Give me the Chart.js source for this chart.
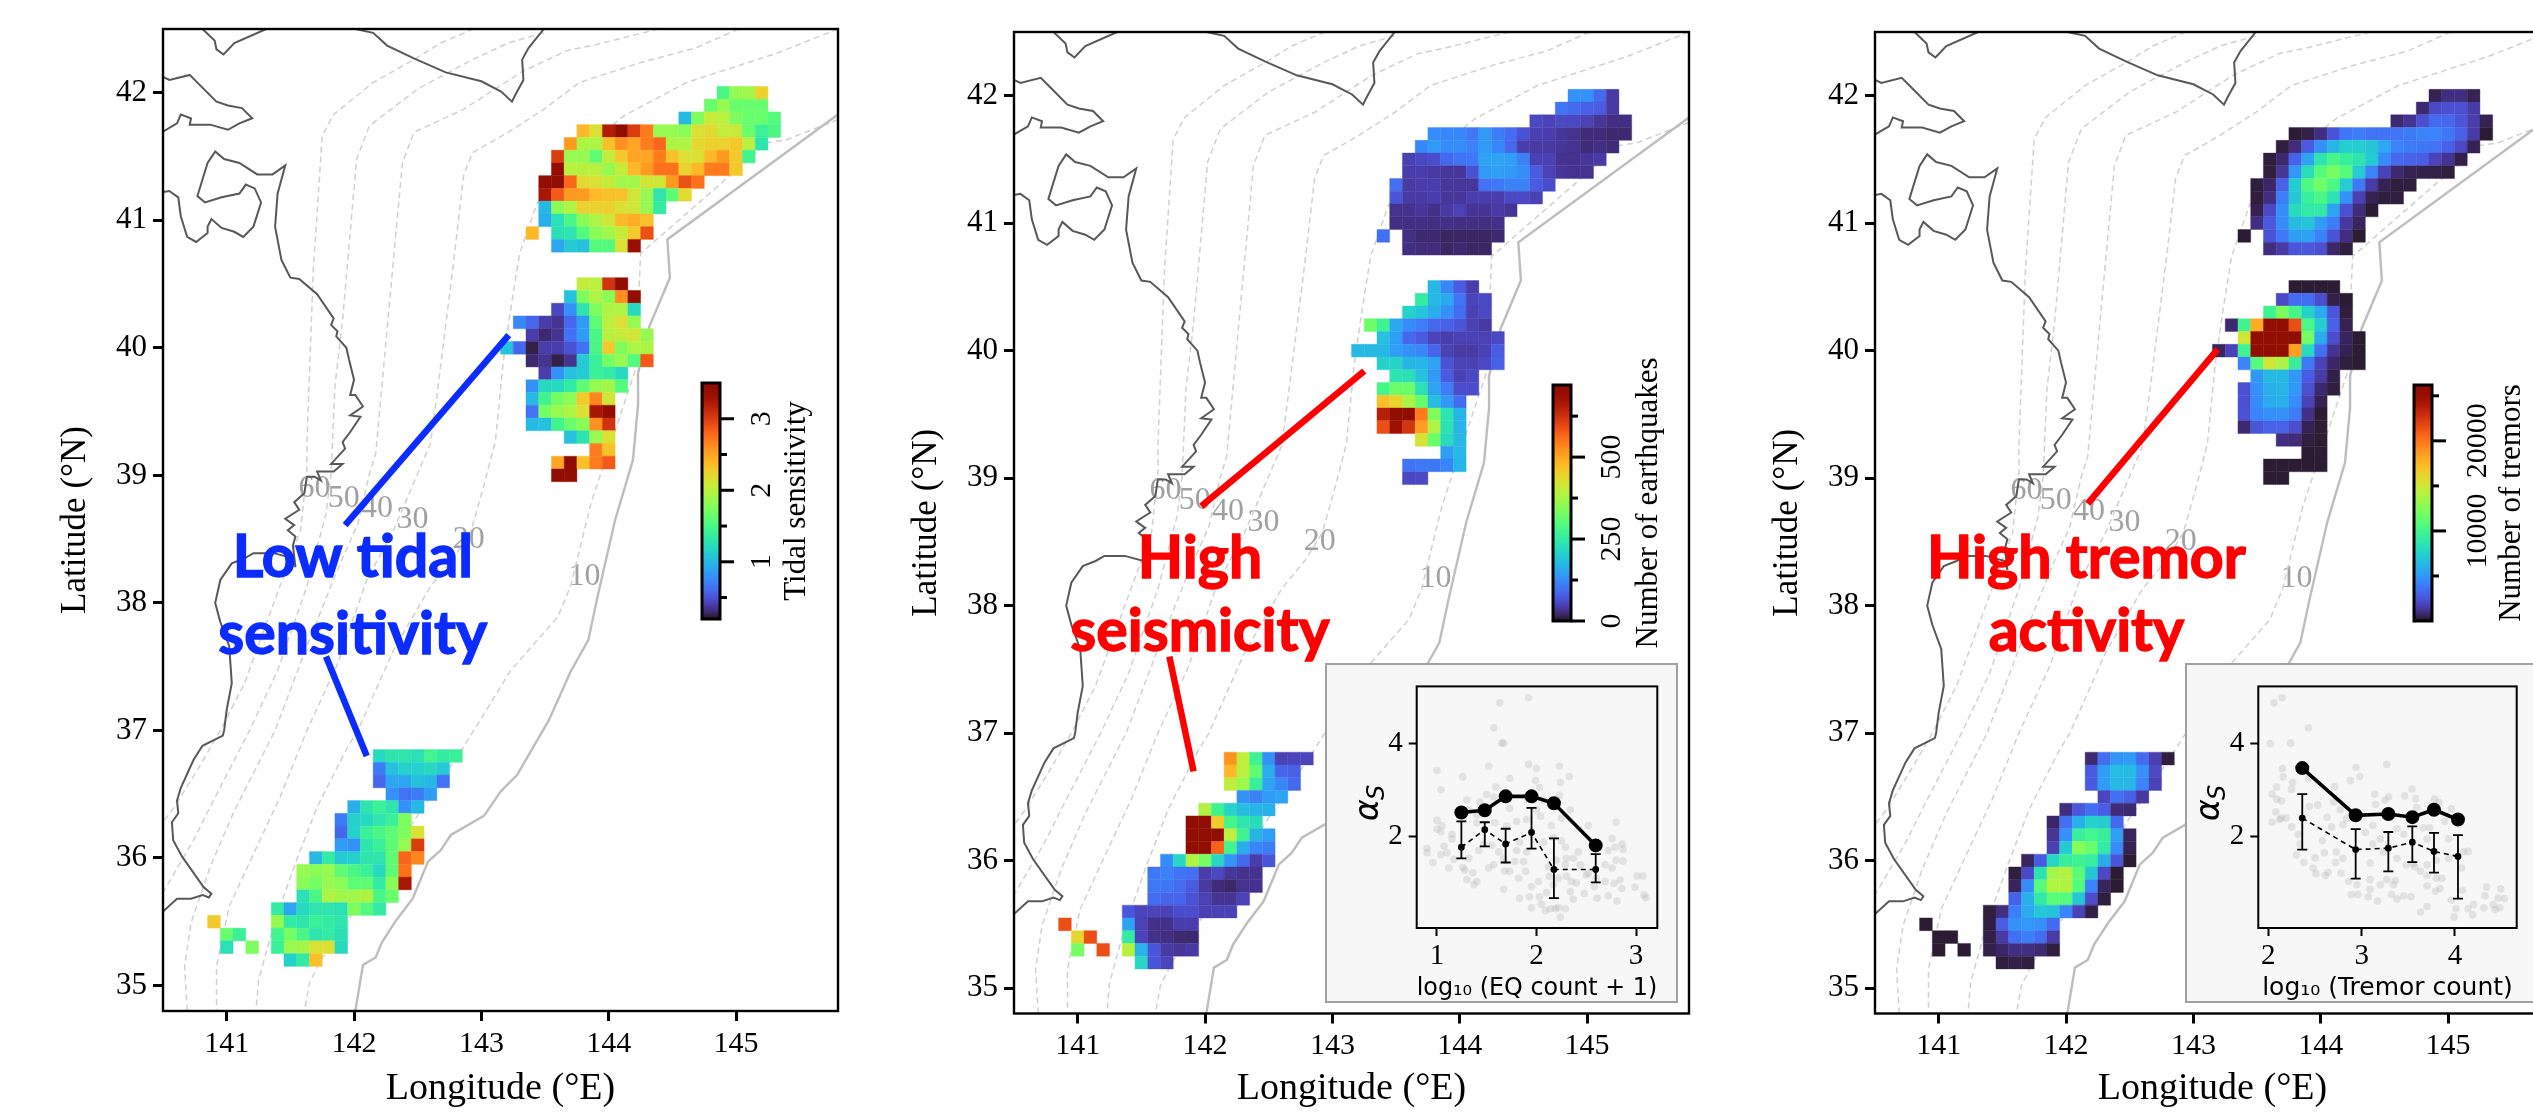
<!DOCTYPE html>
<html lang="en">
<head>
<meta charset="UTF-8" />
<title>Tidal sensitivity, seismicity and tremor activity</title>
<script src="https://cdn.jsdelivr.net/npm/chart.js"></script>
<style>
  html, body { margin: 0; background: #fff; overflow: hidden; width: 2533px; height: 1112px; }
  canvas { position: absolute; }
</style>
</head>
<body>
<script>
// axis ticks
const lonTicks = [141, 142, 143, 144, 145];
const latTicks = [35, 36, 37, 38, 39, 40, 41, 42];

// coast, trench and slab depth contours as [lon, lat]
const coastTop = [[140.81,42.5],[140.905,42.41],[140.92,42.34],[140.975,42.3],[141.06,42.39],[141.31,42.5]];
const coastErimo = [[142.01,42.5],[142.15,42.47],[142.26,42.37],[142.47,42.27],[142.72,42.16],[143,42.09],[143.155,42.01],[143.24,41.93],[143.27,41.99],[143.33,42.1],[143.32,42.26],[143.37,42.35],[143.49,42.5]];
const coastOshima = [[140.49,42.13],[140.55,42.1],[140.71,42.14],[140.78,42.07],[140.92,41.93],[141.01,41.9],[141.12,41.88],[141.2,41.8],[141.1,41.76],[141.01,41.71],[140.87,41.75],[140.71,41.75],[140.72,41.8],[140.64,41.83],[140.61,41.76],[140.49,41.69]];
const coastHonshu = [[140.49,41.22],[140.55,41.23],[140.62,41.18],[140.64,41.03],[140.69,40.87],[140.76,40.83],[140.85,40.9],[140.85,40.95],[140.88,41.01],[140.96,40.94],[141.06,40.91],[141.13,40.87],[141.21,40.95],[141.27,41.14],[141.22,41.25],[141.15,41.28],[141.1,41.21],[140.96,41.18],[140.83,41.14],[140.77,41.19],[140.81,41.32],[140.85,41.45],[140.91,41.54],[140.98,41.48],[141.1,41.45],[141.24,41.36],[141.36,41.36],[141.46,41.43],[141.4,41.21],[141.38,40.95],[141.43,40.69],[141.5,40.55],[141.57,40.54],[141.71,40.42],[141.84,40.23],[141.82,40.18],[141.87,40.13],[141.86,40.09],[141.94,40],[141.96,39.91],[142,39.75],[141.97,39.63],[142.01,39.63],[142.07,39.54],[141.97,39.47],[142.05,39.46],[141.97,39.34],[141.91,39.26],[141.93,39.21],[141.82,39.09],[141.91,39.09],[141.84,39.03],[141.71,39.03],[141.74,38.96],[141.69,38.99],[141.63,38.99],[141.61,38.86],[141.53,38.79],[141.57,38.73],[141.46,38.66],[141.53,38.61],[141.48,38.57],[141.54,38.52],[141.52,38.45],[141.54,38.28],[141.52,38.35],[141.37,38.39],[141.21,38.39],[141.14,38.35],[141.04,38.31],[140.95,38.18],[140.91,38],[140.95,37.85],[141.02,37.66],[141.04,37.37],[141,37.16],[140.98,37],[140.97,36.96],[140.81,36.88],[140.74,36.77],[140.64,36.55],[140.61,36.45],[140.62,36.35],[140.57,36.28],[140.58,36.14],[140.65,36.01],[140.82,35.77],[140.88,35.72],[140.86,35.69],[140.81,35.71],[140.72,35.68],[140.61,35.68],[140.5,35.58]];
const trench = [[145.8,41.83],[144.46,40.85],[144.48,40.55],[144.32,40.17],[144.23,39.8],[144.23,39.55],[144.19,39.12],[144.05,38.65],[143.91,38.04],[143.84,37.71],[143.7,37.46],[143.53,37.08],[143.39,36.84],[143.28,36.65],[143.15,36.52],[143.02,36.33],[142.76,36.18],[142.68,36.06],[142.58,35.97],[142.46,35.68],[142.33,35.51],[142.22,35.34],[142.17,35.22],[142.07,35.16],[142.01,34.8]];
const depth60 = [[142.94,42.5],[142.68,42.39],[142.47,42.26],[142.15,42.08],[141.84,41.83],[141.75,41.66],[141.68,40.61],[141.63,39.25],[141.63,39.04],[141.58,38.57],[141.37,38],[141.14,37.37],[140.95,37],[140.77,36.69],[140.59,36.4],[140.5,36.28]];
const depth50 = [[143.49,42.47],[143.21,42.39],[142.93,42.26],[142.5,42.03],[142.12,41.74],[142.02,41.48],[141.91,40.22],[141.85,39.7],[141.82,39.01],[141.78,38.7],[141.63,38.13],[141.4,37.47],[141.18,37],[140.87,36.4],[140.74,36.14],[140.5,35.73]];
const depth40 = [[144.39,42.5],[143.91,42.38],[143.67,42.33],[143.31,42.16],[142.86,41.87],[142.47,41.69],[142.38,41.45],[142.29,40.48],[142.17,39.17],[142.12,39.01],[142.03,38.62],[141.87,38.26],[141.63,37.66],[141.38,37],[141.06,36.37],[140.87,35.93],[140.72,35.49],[140.67,35.15],[140.69,34.8]];
const depth30 = [[145.02,42.5],[144.68,42.35],[144.26,42.24],[143.77,42.08],[143.49,41.87],[143.21,41.69],[142.93,41.53],[142.86,41.35],[142.79,40.74],[142.65,39.62],[142.6,39.25],[142.31,38.57],[142.1,38.18],[141.87,37.52],[141.63,37],[141.42,36.48],[141.21,36.03],[141.02,35.62],[140.92,35.15],[140.92,34.8]];
const depth20 = [[145.8,42.5],[145.32,42.31],[144.61,42.08],[144.12,41.82],[144.02,41.74],[143.44,41.14],[143.3,40.74],[143.23,40.3],[143.17,39.88],[143.11,39.27],[143.03,38.96],[142.92,38.57],[142.79,38.36],[142.6,38.13],[142.31,37.63],[142.03,37],[141.95,36.87],[141.71,36.4],[141.54,35.96],[141.38,35.51],[141.25,35.04],[141.23,34.8]];
const depth10 = [[145.8,41.79],[145.39,41.63],[145.25,41.61],[144.25,40.74],[144.21,39.83],[143.93,38.99],[143.86,38.78],[143.7,38.13],[143.6,37.89],[143.23,37.47],[142.94,37],[142.84,36.84],[142.47,36.29],[141.74,35.2],[141.65,35.02],[141.61,34.8]];
const depthLabels = [["60",141.69,38.9],["50",141.92,38.82],["40",142.18,38.74],["30",142.46,38.65],["20",142.9,38.5],["10",143.81,38.21]];

// grid cells: [lat, first lon, value per 0.1 degree of lon...]
const tidalRows = [
  [42.0,144.9,1.5,1.85,1.9,2.25],
  [41.9,144.8,1.65,1.85,1.65,1.65,1.65],
  [41.8,144.6,1.0,1.75,2.05,2.0,1.75,1.65,1.65,1.55],
  [41.7,143.8,2.4,2.15,3.2,3.5,3.0,2.7,1.85,1.85,1.8,2.15,2.2,2.05,2.05,1.65,1.4,1.5],
  [41.6,143.7,2.55,1.95,1.95,2.35,2.6,2.5,2.7,2.8,1.95,1.95,2.2,2.25,2.25,2.3,2.0,1.3],
  [41.5,143.6,3.0,1.85,1.85,1.6,2.05,2.3,2.5,2.5,2.7,2.35,2.15,2.15,2.4,2.55,2.3,1.45],
  [41.4,143.6,3.4,2.0,2.0,2.0,1.85,2.05,2.4,2.55,2.75,2.75,2.25,2.4,2.7,2.7,2.3],
  [41.3,143.5,3.5,3.5,2.8,2.2,2.15,2.05,1.9,1.9,2.1,2.1,2.55,2.9,2.75],
  [41.2,143.5,3.25,2.85,2.55,2.55,2.4,2.35,2.35,2.1,1.85,1.3,1.6,2.2],
  [41.1,143.5,1.0,1.8,1.95,2.25,2.25,2.25,2.15,2.1,1.85,1.35],
  [41.0,143.5,0.95,1.25,1.5,1.8,1.95,2.1,2.4,2.45,2.35],
  [40.9,143.4,2.4,null,1.25,1.3,1.55,1.8,1.9,2.05,2.3,2.9],
  [40.8,143.6,0.9,1.1,1.05,1.55,1.55,2.15,3.35],
  [40.5,143.8,2.05,2.0,3.05,3.5],
  [40.4,143.7,1.05,1.75,1.95,1.8,2.6,3.5],
  [40.3,143.6,0.45,0.8,1.3,1.75,1.95,1.95,1.2],
  [40.2,143.3,0.75,0.6,0.4,0.35,0.6,0.85,1.6,2.0,2.15,1.85],
  [40.1,143.4,0.4,0.3,0.35,0.65,0.85,1.5,2.0,2.05,2.1,1.85],
  [40.0,143.2,1.05,0.6,0.25,0.4,0.4,0.5,0.65,1.5,2.3,1.75,1.95,1.95],
  [39.9,143.4,0.3,0.35,0.25,0.35,1.1,1.4,1.7,1.85,1.55,2.85],
  [39.8,143.5,0.4,0.8,1.05,1.1,1.4,1.35,1.2],
  [39.7,143.4,0.8,1.2,1.2,1.35,1.6,1.85,1.9,1.55],
  [39.6,143.4,1.0,1.45,1.7,1.8,2.3,2.65,2.1],
  [39.5,143.4,0.65,1.7,1.85,1.95,2.15,3.25,3.5],
  [39.4,143.4,1.0,1.05,1.45,1.65,1.8,2.6,3.05],
  [39.3,143.7,1.05,1.3,1.85,2.15],
  [39.2,143.9,2.7,2.35],
  [39.1,143.6,2.5,3.45,2.35,2.7,2.85],
  [39.0,143.6,3.5,3.5],
  [36.8,142.2,1.2,1.3,1.3,1.25,1.45,1.35,1.4],
  [36.7,142.2,0.7,1.05,1.15,1.15,1.2,1.1],
  [36.6,142.2,0.6,0.9,0.9,1.05,1.0,0.65],
  [36.5,142.3,0.8,0.65,0.7,0.85],
  [36.4,142.0,0.95,1.3,1.4,1.3,0.8,1.0],
  [36.3,141.9,0.7,1.15,1.2,1.3,1.4,1.75],
  [36.2,141.9,0.6,1.15,1.4,1.5,1.6,1.75,2.15],
  [36.1,141.9,0.85,0.8,1.3,1.4,1.6,1.85,3.0],
  [36.0,141.7,1.0,1.35,1.1,1.15,1.3,1.3,1.6,2.8,2.65],
  [35.9,141.6,1.85,1.8,1.85,1.6,1.5,1.4,1.2,1.6,2.75],
  [35.8,141.6,1.8,1.7,1.85,1.8,1.6,1.6,1.35,1.8,3.25],
  [35.7,141.6,1.25,1.5,1.95,1.9,1.9,1.95,1.5,1.65],
  [35.6,141.4,1.35,0.9,1.2,1.3,1.3,1.25,1.75,1.55,1.35],
  [35.5,140.9,2.3,null,null,null,null,1.85,1.35,1.3,1.4,1.35,1.3],
  [35.4,141.0,1.65,1.4,null,null,1.45,1.7,1.5,1.3,1.35,1.25],
  [35.3,141.0,1.25,null,1.75,null,1.4,1.85,1.9,2.15,2.15,1.2],
  [35.2,141.5,1.15,1.35,2.35]
];
const quakeRows = [
  [42.0,144.9,130,130,90,40],
  [41.9,144.8,100,90,80,75,40],
  [41.8,144.6,55,50,55,55,48,36,28,28],
  [41.7,143.8,125,120,120,105,140,110,92,65,48,44,36,32,24,24,22,22],
  [41.6,143.7,120,140,125,125,115,140,120,88,44,40,40,36,32,24,28,24],
  [41.5,143.6,48,55,60,88,100,105,150,150,145,115,48,48,32,32,36,40],
  [41.4,143.6,44,44,40,36,36,65,140,145,140,125,75,48,36,32,32],
  [41.3,143.5,95,40,44,44,36,36,36,100,105,115,115,75,60],
  [41.2,143.5,70,40,40,44,36,36,44,44,44,55,55,48],
  [41.1,143.5,32,32,36,30,40,48,34,34,40,34],
  [41.0,143.5,28,28,28,28,30,28,28,28,30],
  [40.9,143.4,95,null,28,22,22,18,18,18,18,22],
  [40.8,143.6,28,25,25,18,22,18,18],
  [40.5,143.8,175,120,75,44],
  [40.4,143.7,250,175,155,100,50,55],
  [40.3,143.6,210,190,160,130,92,48,55],
  [40.2,143.3,320,270,155,125,110,88,80,70,48,40],
  [40.1,143.4,185,145,88,75,50,44,48,48,48,55],
  [40.0,143.2,175,175,175,145,130,120,85,48,40,40,48,75],
  [39.9,143.4,205,210,170,170,150,65,48,48,55,80],
  [39.8,143.5,235,230,185,140,75,48,55],
  [39.7,143.4,280,320,320,230,150,110,60,60],
  [39.6,143.4,470,445,380,315,180,140,92],
  [39.5,143.4,650,720,720,545,340,235,170],
  [39.4,143.4,590,680,620,510,385,235,170],
  [39.3,143.7,420,320,220,175],
  [39.2,143.9,145,175],
  [39.1,143.6,100,105,105,120,170],
  [39.0,143.6,55,55],
  [36.8,142.2,520,400,270,130,48,50,50],
  [36.7,142.2,480,395,310,160,85,80],
  [36.6,142.2,400,365,260,150,120,88],
  [36.5,142.3,130,115,140,150],
  [36.4,142.0,385,270,210,180,170,165],
  [36.3,141.9,720,720,455,280,240,225],
  [36.2,141.9,720,720,720,395,270,170,145],
  [36.1,141.9,720,720,570,275,160,120,110],
  [36.0,141.7,125,215,385,330,215,135,88,44,70],
  [35.9,141.6,105,115,100,95,44,55,36,32,32],
  [35.8,141.6,105,105,92,75,40,24,20,32,32],
  [35.7,141.6,92,85,85,65,48,34,34,48],
  [35.6,141.4,70,50,50,48,60,60,48,48,48],
  [35.5,140.9,590,null,null,null,null,150,48,30,30,44,44],
  [35.4,141.0,440,590,null,null,250,50,30,28,22,22],
  [35.3,141.0,330,null,590,null,390,170,70,40,36,40],
  [35.2,141.5,215,70,50]
];
const tremorRows = [
  [42.0,144.9,500,1000,1000,500],
  [41.9,144.8,800,2000,2300,2300,1500],
  [41.8,144.6,800,1200,2300,3300,3200,2500,1600,500],
  [41.7,143.8,200,400,1000,2400,3700,4000,3600,3600,3600,3900,4200,4200,3800,2900,1500,200],
  [41.6,143.7,300,900,2700,4700,6200,7300,7300,7000,5600,4200,3900,3800,3600,3000,2000,500],
  [41.5,143.6,300,800,3000,5500,8700,10200,9400,8700,7200,4600,3200,3000,2800,1800,1200,400],
  [41.4,143.6,300,1300,5000,8200,10800,12000,10800,7300,4200,1800,800,500,400,400,300],
  [41.3,143.5,300,700,3000,7300,10500,11800,10400,7300,3900,1500,500,300,300],
  [41.2,143.5,300,1000,4000,7000,9500,10300,8500,4700,1700,500,300,300],
  [41.1,143.5,500,2000,4600,8000,9000,9000,5500,2300,900,200],
  [41.0,143.5,1000,2600,4600,6500,6900,5300,3900,1400,600],
  [40.9,143.4,200,null,2400,3800,5300,5400,4200,2400,1000,200],
  [40.8,143.6,1000,1500,2500,2600,2300,700,300],
  [40.5,143.8,200,200,200,200],
  [40.4,143.7,2000,3400,3400,2200,400,200],
  [40.3,143.6,9800,12200,10200,7500,5800,2500,300],
  [40.2,143.3,800,9800,18000,26200,26200,21500,10300,7300,2900,500],
  [40.1,143.4,15000,26200,26200,26200,26200,12000,5800,2200,600,200],
  [40.0,143.2,600,1800,9800,26200,26200,26200,18500,8000,3500,1200,500,200],
  [39.9,143.4,4200,10800,15000,13800,9400,3800,1800,700,300,200],
  [39.8,143.5,5000,6400,6400,5000,2800,1500,400],
  [39.7,143.4,2300,4800,5900,6200,5000,2300,800,300],
  [39.6,143.4,2300,4600,5800,6000,4600,1800,500],
  [39.5,143.4,2400,4300,4700,4700,3900,1100,200],
  [39.4,143.4,800,2500,3000,3000,2200,500,200],
  [39.3,143.7,1000,900,300,200],
  [39.2,143.9,200,200],
  [39.1,143.6,200,200,200,200,200],
  [39.0,143.6,200,200],
  [36.8,142.2,800,3400,4900,5200,3300,1700,300],
  [36.7,142.2,2700,5200,6500,6500,4700,2000],
  [36.6,142.2,2700,5200,6400,6300,4200,1800],
  [36.5,142.3,1900,3500,2900,1400],
  [36.4,142.0,1000,2500,3400,2800,900,800],
  [36.3,141.9,700,3500,6000,7500,7300,3200],
  [36.2,141.9,1300,4700,9500,10000,9500,5300,600],
  [36.1,141.9,1700,7200,12600,11500,9000,4500,500],
  [36.0,141.7,600,2700,7800,9400,9800,9300,5900,2500,200],
  [35.9,141.6,300,2000,8500,13500,14000,11000,7000,2000,200],
  [35.8,141.6,600,4500,10800,14000,14000,10800,4300,600,200],
  [35.7,141.6,3000,6000,9000,11000,10800,7000,2200,300],
  [35.6,141.4,300,1000,4000,5800,7000,6800,4300,1800,400],
  [35.5,140.9,200,null,null,null,null,300,2800,4700,5000,4700,3300],
  [35.4,141.0,200,200,null,null,400,1500,3500,4100,3400,1500],
  [35.3,141.0,200,null,200,null,400,700,1000,1000,800,300],
  [35.2,141.5,300,400,300]
];

// colour bars
const tidalMajor = [1, 2, 3];
const tidalMinor = [0.5, 1.5, 2.5];
const quakeMajor = [0, 250, 500];
const quakeMinor = [125, 375, 625];
const tremorMajor = [10000, 20000];
const tremorMinor = [5000, 15000, 25000];

// inset: earthquakes
const quakeBinX = [1.245, 1.48, 1.69, 1.95, 2.175, 2.595];
const quakeUpper = [2.51, 2.56, 2.86, 2.86, 2.71, 1.80];
const quakeMean = [1.76, 2.14, 1.83, 2.08, 1.28, 1.28];
const quakeErrHi = [2.32, 2.30, 2.16, 2.61, 1.95, 1.61];
const quakeErrLo = [1.52, 1.78, 1.43, 1.73, 0.66, 1.00];
const quakeScatter = [[1.92,4.99],[1.63,4.88],[1.57,4.34],[1.65,4.01],[1.67,4.01],[1.52,3.51],[1.92,3.55],[2,3.46],[2.23,3.51],[1,3.42],[1.26,3.28],[1.73,3.25],[1.99,3.2],[2.03,3.05],[2.24,3.16],[2.33,3.29],[1.04,3],[1.5,2.9],[1.59,3.06],[1.3,2.78],[1.43,2.74],[2.23,2.88],[1,2.34],[1.05,2.23],[1,2.15],[1.04,2.09],[1.15,2.04],[1.15,1.94],[0.9,1.74],[0.9,1.64],[0.96,1.43],[1.07,1.78],[1.04,1.6],[1.1,1.64],[1.12,1.31],[1.17,1.5],[1.26,1.32],[1.28,1.27],[1.3,1.06],[1.36,1.21],[1.37,0.95],[1.4,1.02],[1.32,1.52],[1.42,1.69],[1.47,1.83],[1.52,1.31],[1.57,1.38],[1.62,1.66],[1.55,1.8],[1.67,1.52],[1.68,1.24],[1.73,1.24],[1.82,1.09],[1.89,1.24],[1.87,1.45],[1.78,1.45],[1.8,1.69],[1.9,1.66],[1.83,1.87],[1.7,2.22],[1.58,2.29],[1.4,2.29],[1.32,2.57],[1.4,2.46],[1.57,2.84],[1.73,2.6],[1.8,2.32],[1.9,2.36],[2,2.57],[2.04,2.43],[1.97,2.78],[2.07,2.78],[2.15,2.23],[2.25,2.39],[2.34,2.57],[2.25,1.9],[2.17,1.97],[2.29,1.76],[2.07,1.87],[1.67,0.85],[1.83,0.66],[1.95,0.91],[1.93,0.69],[2.02,1.02],[2.03,0.69],[1.95,0.45],[2.09,0.39],[2.05,0.53],[2.1,0.78],[2.13,1.13],[2.17,0.95],[2.12,1.34],[2.2,1.48],[2.3,1.52],[2.37,1.52],[2.42,1.66],[2.52,2.23],[2.8,2.3],[2.76,1.95],[2.72,1.69],[2.79,1.76],[2.86,1.83],[2.87,1.71],[2.8,1.48],[2.87,1.46],[2.76,1.31],[2.69,1.38],[2.69,1.02],[2.6,1.09],[2.5,1.16],[2.44,1.38],[2.3,1.13],[2.35,1.02],[2.4,0.99],[2.34,0.8],[2.48,0.76],[2.61,0.66],[2.72,0.71],[2.81,0.6],[2.78,0.98],[2.84,1.05],[2.86,0.87],[2.99,0.9],[3.01,1.14],[3.07,1.14],[3.08,0.73],[3.1,0.67],[2.24,0.25],[2.22,0.46],[2.29,0.43],[2.19,0.43],[2.14,0.43],[2.37,0.64],[2.58,0.91],[2.52,1.2],[2.29,1.38],[2.22,1.09]];

// inset: tremors
const tremorBinX = [2.364, 2.936, 3.286, 3.543, 3.775, 4.032];
const tremorUpper = [3.47, 2.45, 2.48, 2.41, 2.57, 2.36];
const tremorMean = [2.39, 1.71, 1.74, 1.87, 1.67, 1.56];
const tremorErrHi = [2.91, 2.15, 2.09, 2.21, 2.07, 2.02];
const tremorErrLo = [1.71, 1.08, 1.24, 1.44, 1.21, 0.65];
const tremorScatter = [[2.15,4.99],[2.06,4.88],[2.43,4.34],[2.02,4],[2.24,4.01],[2.15,3.46],[2.16,3.28],[2.26,3.16],[2.09,3.06],[2.25,3.01],[2.04,2.91],[2.09,2.8],[2.14,2.76],[2.08,2.52],[2.14,2.39],[2.04,2.3],[2.12,2.36],[2.19,2.39],[2.25,2.2],[2.32,2.04],[2.34,1.83],[2.3,1.59],[2.38,1.43],[2.48,1.31],[2.51,1.19],[2.61,1.15],[2.64,1.22],[2.5,1.53],[2.6,1.64],[2.58,1.9],[2.73,1.66],[2.72,1.43],[2.78,1.2],[2.8,1.52],[2.53,2.67],[2.44,2.64],[2.43,3.24],[2.71,3.07],[2.7,2.74],[2.63,2.41],[2.77,2.57],[2.68,2.2],[2.8,2.25],[2.84,2.38],[2.88,3.2],[2.94,3.49],[2.98,3.29],[3.27,3.55],[3.14,2.91],[3.15,2.69],[3.25,2.78],[3.29,2.85],[3.46,2.87],[3.54,3.02],[3.58,2.81],[3.59,2.62],[3.78,2.8],[3.83,2.73],[3.96,2.59],[3.89,2.32],[3.12,2.23],[3.04,2.08],[3.2,1.94],[3.12,1.83],[3.38,2.16],[3.45,2.04],[3.66,2.18],[3.73,2.18],[3.7,1.94],[3.93,1.94],[3.09,1.42],[3.23,1.66],[3.38,1.52],[3.48,1.38],[3.57,1.34],[3.7,1.38],[3.8,1.48],[3.93,1.52],[4.09,1.66],[4.14,1.67],[4.07,1.31],[3.8,1.09],[3.86,1.09],[3.7,1.15],[3.63,1.24],[3.55,1.41],[3.36,1.04],[3.27,1.06],[3.2,0.95],[3.09,1.06],[2.86,1.02],[2.95,0.95],[2.89,0.74],[2.96,0.74],[3.07,0.69],[3.17,0.6],[3.09,0.85],[3.34,0.95],[3.32,0.74],[3.38,0.64],[3.45,0.71],[3.53,0.69],[3.7,0.92],[3.79,0.81],[3.84,0.87],[4.08,0.83],[3.96,0.62],[4.01,0.43],[3.99,0.25],[3.63,0.36],[3.7,0.48],[4.2,0.52],[4.14,0.43],[4.19,0.3],[4.32,0.71],[4.34,0.9],[4.31,0.45],[4.49,0.86],[4.46,0.66],[4.53,0.65],[4.41,0.52],[4.43,0.41],[4.48,0.45]];

const SERIF = '"Liberation Serif"';
const SANS = '"DejaVu Sans"';

// turbo colour map (polynomial fit)
function turbo(t) {
  const x = Math.min(1, Math.max(0, t));
  const r = 0.13572138 + x * (4.6153926 + x * (-42.66032258 + x * (132.13108234 + x * (-152.94239396 + x * 59.28637943))));
  const g = 0.09140261 + x * (2.19418839 + x * (4.84296658 + x * (-14.18503333 + x * (4.27729857 + x * 2.82956604))));
  const b = 0.1066733 + x * (12.64194608 + x * (-60.58204836 + x * (110.36276771 + x * (-89.90310912 + x * 27.34824973))));
  const c = (v) => Math.round(255 * Math.min(1, Math.max(0, v)));
  return `rgb(${c(r)},${c(g)},${c(b)})`;
}

function addCanvas(left, top, width, height, z) {
  const canvas = document.createElement("canvas");
  canvas.width = width;
  canvas.height = height;
  canvas.style.left = left + "px";
  canvas.style.top = top + "px";
  canvas.style.width = width + "px";
  canvas.style.height = height + "px";
  canvas.style.zIndex = z;
  document.body.appendChild(canvas);
  return canvas;
}

function cellsFromRows(rows) {
  const cells = [];
  rows.forEach((row) => {
    row.slice(2).forEach((v, i) => {
      if (v !== null) cells.push({ x: row[1] + i * 0.1, y: row[0], v: v });
    });
  });
  return cells;
}

const toXY = (pts) => pts.map((p) => ({ x: p[0], y: p[1] }));
const lineSet = (pts, color, width, dash, order) => ({
  data: toXY(pts), showLine: true, pointRadius: 0, borderColor: color, borderWidth: width,
  borderDash: dash || [], tension: 0, order: order
});

const framePlugin = {
  id: "frame",
  afterDatasetsDraw(chart, args, opts) {
    const a = chart.chartArea, ctx = chart.ctx;
    ctx.save();
    ctx.strokeStyle = "#000";
    ctx.lineWidth = opts.width || 2.5;
    ctx.strokeRect(a.left, a.top, a.right - a.left, a.bottom - a.top);
    ctx.restore();
  }
};

// one of the three map panels
function drawMap(p) {
  const plotW = 675, yAxisW = 108, canvasW = yAxisW + plotW + 4;
  const canvas = addCanvas(p.left - yAxisW, 0, canvasW, 1112, 1);
  const cellRadius = (ctx) => {
    const s = ctx.chart.scales.x;
    return Math.abs(s.getPixelForValue(141.1) - s.getPixelForValue(141)) / Math.SQRT2;
  };
  const cellColor = (ctx) => turbo((ctx.raw.v - p.min) / (p.max - p.min));
  const datasets = [
    { data: cellsFromRows(p.rows), showLine: false, pointStyle: "rect", pointRadius: cellRadius,
      pointBackgroundColor: cellColor, pointBorderColor: cellColor, pointBorderWidth: 0.4, order: 2 }
  ];
  p.arrows.forEach((a) => datasets.push(lineSet(a, p.color, 6.5, null, 1)));
  [depth60, depth50, depth40, depth30, depth20, depth10].forEach((d) =>
    datasets.push(lineSet(d, "#d0d0d0", 1.5, [6, 4], 5)));
  [coastTop, coastErimo, coastOshima, coastHonshu].forEach((c) =>
    datasets.push(lineSet(c, "#585858", 2, null, 4)));
  datasets.push(lineSet(trench, "#bdbdbd", 2.4, null, 3));

  const mapText = {
    id: "mapText",
    beforeDatasetsDraw(chart) {
      const { ctx, scales } = chart;
      ctx.save();
      ctx.font = `32px ${SERIF}`;
      ctx.fillStyle = "#a0a0a0";
      ctx.textAlign = "center";
      ctx.textBaseline = "middle";
      depthLabels.forEach((d) => ctx.fillText(d[0], scales.x.getPixelForValue(d[1]), scales.y.getPixelForValue(d[2])));
      ctx.restore();
    },
    afterDatasetsDraw(chart) {
      const { ctx, scales } = chart;
      ctx.save();
      ctx.font = `bold 59px Lato`;
      ctx.fillStyle = p.color;
      ctx.strokeStyle = p.color;
      ctx.lineWidth = 1.4;
      ctx.textAlign = "center";
      ctx.textBaseline = "alphabetic";
      p.words.forEach((w) => {
        const x = scales.x.getPixelForValue(w[1]), y = scales.y.getPixelForValue(w[2]);
        ctx.fillText(w[0], x, y);
        ctx.strokeText(w[0], x, y);
      });
      ctx.restore();
    }
  };

  new Chart(canvas, {
    type: "scatter",
    data: { datasets: datasets },
    plugins: [mapText, framePlugin],
    options: {
      responsive: false, animation: false, events: [],
      layout: { padding: { top: p.top, right: 4, left: 0, bottom: 0 } },
      plugins: { legend: { display: false }, tooltip: { enabled: false }, frame: { width: 2.4 } },
      scales: {
        x: {
          type: "linear", min: 140.5, max: 145.8,
          afterBuildTicks: (s) => { s.ticks = lonTicks.map((v) => ({ value: v })); },
          afterFit: (s) => { s.height = 1112 - p.bottom; },
          ticks: { autoSkip: false, maxRotation: 0, padding: 5, color: "#000", font: { family: SERIF, size: 30 }, callback: (v) => String(v) },
          grid: { drawOnChartArea: false, tickLength: 10, tickWidth: 3, tickColor: "#000" },
          border: { display: false },
          title: { display: true, text: "Longitude (°E)", color: "#000", font: { family: SERIF, size: 38 }, padding: { top: 0, bottom: 0 } }
        },
        y: {
          type: "linear", min: 34.8, max: 42.5,
          afterBuildTicks: (s) => { s.ticks = latTicks.map((v) => ({ value: v })); },
          afterFit: (s) => { s.width = yAxisW; },
          ticks: { autoSkip: false, padding: 6, color: "#000", font: { family: SERIF, size: 31 }, callback: (v) => String(v) },
          grid: { drawOnChartArea: false, tickLength: 10, tickWidth: 3, tickColor: "#000" },
          border: { display: false },
          title: { display: true, text: "Latitude (°N)", color: "#000", font: { family: SERIF, size: 35 }, padding: { top: 0, bottom: 0 } }
        }
      }
    }
  });
}

// vertical colour bar with rotated labels
function drawColorbar(c) {
  const top = 330, height = 340, width = 160;
  const canvas = addCanvas(c.left - 4, top, width, height, 2);
  const barW = 18;
  const bar = {
    id: "bar",
    beforeDatasetsDraw(chart) {
      const { ctx, chartArea: a, scales } = chart;
      const grad = ctx.createLinearGradient(0, a.bottom, 0, a.top);
      for (let i = 0; i <= 32; i++) grad.addColorStop(i / 32, turbo(i / 32));
      ctx.save();
      ctx.fillStyle = grad;
      ctx.fillRect(a.left, a.top, a.right - a.left, a.bottom - a.top);
      ctx.strokeStyle = "#000";
      ctx.lineWidth = 3;
      c.minor.forEach((v) => {
        const y = scales.y.getPixelForValue(v);
        ctx.beginPath(); ctx.moveTo(a.right, y); ctx.lineTo(a.right + 7, y); ctx.stroke();
      });
      c.major.forEach((v) => {
        const y = scales.y.getPixelForValue(v);
        ctx.beginPath(); ctx.moveTo(a.right, y); ctx.lineTo(a.right + 14, y); ctx.stroke();
        ctx.save();
        ctx.translate(c.labelOffset, y);
        ctx.rotate(-Math.PI / 2);
        ctx.font = `30px ${SERIF}`;
        ctx.fillStyle = "#000";
        ctx.textAlign = "center";
        ctx.textBaseline = "middle";
        ctx.fillText(String(v), 0, 0);
        ctx.restore();
      });
      ctx.translate(c.titleOffset, (a.top + a.bottom) / 2);
      ctx.rotate(-Math.PI / 2);
      ctx.font = `31px ${SERIF}`;
      ctx.fillStyle = "#000";
      ctx.textAlign = "center";
      ctx.textBaseline = "middle";
      ctx.fillText(c.title, 0, 0);
      ctx.restore();
    }
  };
  new Chart(canvas, {
    type: "scatter",
    data: { datasets: [{ data: [], showLine: false }] },
    plugins: [bar, framePlugin],
    options: {
      responsive: false, animation: false, events: [],
      layout: { padding: { top: c.top - top, bottom: top + height - c.bottom, left: 4, right: width - 4 - barW } },
      plugins: { legend: { display: false }, tooltip: { enabled: false }, frame: { width: 3 } },
      scales: {
        x: { display: false, min: 0, max: 1 },
        y: { display: false, min: c.min, max: c.max }
      }
    }
  });
}

// grey inset with scatter, upper curve and mean with error bars
function drawInset(n) {
  const canvas = addCanvas(n.boxLeft, 663, 353, 340, 3);
  const datasets = [
    { data: n.binX.map((x, i) => ({ x: x, y: n.upper[i] })), showLine: true, borderColor: "#000", borderWidth: 3.6,
      pointRadius: 5.2, pointBackgroundColor: "#000", pointBorderColor: "#000", order: 1 },
    { data: n.binX.map((x, i) => ({ x: x, y: n.mean[i] })), showLine: true, borderColor: "#000", borderWidth: 1.6, borderDash: [5, 4],
      pointRadius: 2.6, pointBackgroundColor: "#000", pointBorderColor: "#000", order: 2 },
    { data: toXY(n.scatter), showLine: false, pointRadius: 3.8, pointBorderWidth: 0, pointBackgroundColor: "rgba(170,170,170,0.27)", order: 9 }
  ];
  n.binX.forEach((x, i) => datasets.push({
    data: [{ x: x, y: n.errLo[i] }, { x: x, y: n.errHi[i] }], showLine: true, borderColor: "#000", borderWidth: 1.8,
    pointStyle: "line", pointRadius: 5, pointBorderColor: "#000", pointBorderWidth: 1.8, order: 3
  }));

  const box = {
    id: "box",
    beforeDraw(chart) {
      const ctx = chart.ctx;
      ctx.save();
      ctx.fillStyle = "#f7f7f7";
      ctx.strokeStyle = "#a0a0a0";
      ctx.lineWidth = 2;
      ctx.fillRect(0, 0, chart.width, chart.height);
      ctx.strokeRect(1, 1, chart.width - 2, chart.height - 2);
      ctx.restore();
    },
    afterDatasetsDraw(chart) {
      const { ctx, chartArea: a } = chart;
      ctx.save();
      ctx.translate(a.left - 50, 142);
      ctx.rotate(-Math.PI / 2);
      ctx.fillStyle = "#000";
      ctx.textBaseline = "alphabetic";
      ctx.font = `italic 33px ${SANS}`;
      ctx.fillText("α", -16, 11);
      ctx.font = `italic 24px ${SANS}`;
      ctx.fillText("S", 5, 17);
      ctx.restore();
    }
  };

  new Chart(canvas, {
    type: "scatter",
    data: { datasets: datasets },
    plugins: [box, framePlugin],
    options: {
      responsive: false, animation: false, events: [],
      layout: { padding: { top: 17, left: 0, bottom: 0, right: 353 - n.axisLeft - n.axisW } },
      plugins: { legend: { display: false }, tooltip: { enabled: false }, frame: { width: 2 } },
      scales: {
        x: {
          type: "linear", min: n.xMin, max: n.xMax,
          afterBuildTicks: (s) => { s.ticks = n.xTicks.map((v) => ({ value: v })); },
          afterFit: (s) => { s.height = 75; },
          ticks: { autoSkip: false, maxRotation: 0, padding: 3, color: "#000", font: { family: SERIF, size: 29 }, callback: (v) => String(v) },
          grid: { drawOnChartArea: false, tickLength: 8, tickWidth: 2, tickColor: "#000" },
          border: { display: false },
          title: { display: true, text: n.xTitle, color: "#000", font: { family: SANS, size: 25 }, padding: { top: 0, bottom: 0 } }
        },
        y: {
          type: "linear", min: 0.015, max: 5.236,
          afterBuildTicks: (s) => { s.ticks = [2, 4].map((v) => ({ value: v })); },
          afterFit: (s) => { s.width = n.axisLeft; },
          ticks: { autoSkip: false, padding: 6, color: "#000", font: { family: SERIF, size: 29 }, callback: (v) => String(v) },
          grid: { drawOnChartArea: false, tickLength: 8, tickWidth: 2, tickColor: "#000" },
          border: { display: false }
        }
      }
    }
  });
}

const BLUE = "#0a2cff", RED = "#ff0000";

drawMap({ left: 162.5, top: 29, bottom: 1011, rows: tidalRows, min: 0.2, max: 3.5, color: BLUE,
  arrows: [[[141.93,38.61],[143.215,40.1]], [[141.78,37.58],[142.1,36.8]]],
  words: [["Low tidal",141.99,38.2],["sensitivity",141.99,37.6]] });
drawMap({ left: 1013.5, top: 32, bottom: 1013.5, rows: quakeRows, min: 0, max: 720, color: RED,
  arrows: [[[141.97,38.78],[143.25,39.84]], [[141.72,37.6],[141.91,36.7]]],
  words: [["High",141.96,38.22],["seismicity",141.96,37.64]] });
drawMap({ left: 1875, top: 32, bottom: 1013.5, rows: tremorRows, min: 0, max: 26200, color: RED,
  arrows: [[[142.17,38.8],[143.19,40.01]]],
  words: [["High tremor",142.16,38.22],["activity",142.16,37.64]] });

drawColorbar({ left: 702, top: 383, bottom: 619, min: 0.2, max: 3.5, major: tidalMajor, minor: tidalMinor,
  labelOffset: 64, titleOffset: 99, title: "Tidal sensitivity" });
drawColorbar({ left: 1553, top: 385, bottom: 621, min: 0, max: 720, major: quakeMajor, minor: quakeMinor,
  labelOffset: 63, titleOffset: 100, title: "Number of earthquakes" });
drawColorbar({ left: 2414, top: 385, bottom: 621, min: 0, max: 26200, major: tremorMajor, minor: tremorMinor,
  labelOffset: 68, titleOffset: 102, title: "Number of tremors" });

drawInset({ boxLeft: 1325, axisLeft: 91.7, axisW: 240.6, xMin: 0.796, xMax: 3.214, xTicks: [1, 2, 3],
  xTitle: "log₁₀ (EQ count + 1)", binX: quakeBinX, upper: quakeUpper, mean: quakeMean,
  errLo: quakeErrLo, errHi: quakeErrHi, scatter: quakeScatter });
drawInset({ boxLeft: 2185, axisLeft: 73.3, axisW: 258.4, xMin: 1.893, xMax: 4.661, xTicks: [2, 3, 4],
  xTitle: "log₁₀ (Tremor count)", binX: tremorBinX, upper: tremorUpper, mean: tremorMean,
  errLo: tremorErrLo, errHi: tremorErrHi, scatter: tremorScatter });
</script>
</body>
</html>
